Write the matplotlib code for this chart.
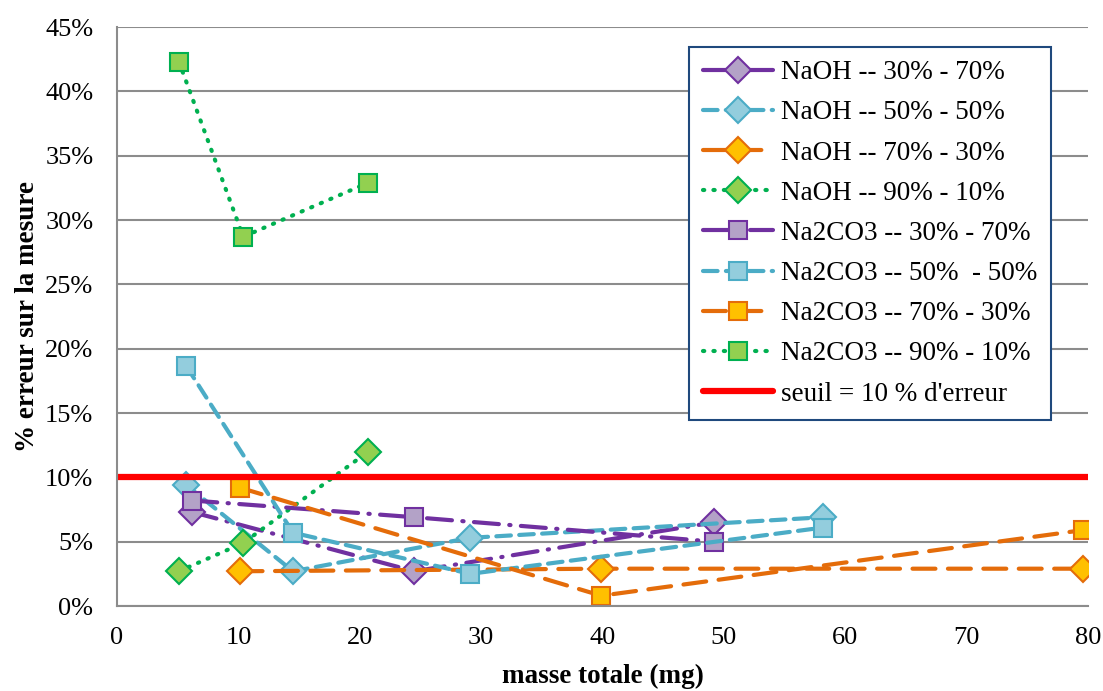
import matplotlib.pyplot as plt
from matplotlib.ticker import FuncFormatter

plt.rcParams['font.family'] = 'Liberation Serif'

# masse totale (mg) et % erreur pour chaque série
naoh_30_x = [6.2, 24.5, 49.2]
naoh_30_y = [7.3, 2.7, 6.5]
naoh_50_x = [5.7, 14.5, 29.1, 58.2]
naoh_50_y = [9.4, 2.7, 5.3, 6.9]
naoh_70_x = [10.1, 39.9, 79.6]
naoh_70_y = [2.7, 2.9, 2.9]
naoh_90_x = [5.1, 10.4, 20.7]
naoh_90_y = [2.7, 4.9, 12.0]

na2co3_30_x = [6.2, 24.5, 49.2]
na2co3_30_y = [8.2, 6.9, 5.0]
na2co3_50_x = [5.7, 14.5, 29.1, 58.2]
na2co3_50_y = [18.65, 5.7, 2.5, 6.1]
na2co3_70_x = [10.1, 39.9, 79.6]
na2co3_70_y = [9.2, 0.8, 5.9]
na2co3_90_x = [5.1, 10.4, 20.7]
na2co3_90_y = [42.3, 28.7, 32.9]

seuil_x = [0, 80]
seuil_y = [10, 10]

purple = ('#7030A0', '#B3A2C7')
cyan = ('#4BACC6', '#93CDDD')
orange = ('#E46C0A', '#FFC000')
green = ('#00B050', '#92D050')

dashdot = (0, (6, 2.5, 0.3, 2.5))
dashed = (0, (3.5, 2))
longdash = (0, (5.5, 3))
dotted = (0, (0.3, 2.2))

fig = plt.figure(figsize=(11.03, 6.91), dpi=100)
ax = fig.add_axes([0.1061, 0.1230, 0.8803, 0.8379])

def serie(x, y, col, ls, marker, label):
    ms = 13.5 if marker == 'D' else 12.5
    ax.plot(x, y, color=col[0], linestyle=ls, linewidth=3, dash_capstyle='round',
            marker=marker, markersize=ms, markerfacecolor=col[1],
            markeredgecolor=col[0], markeredgewidth=1.5, label=label)

serie(naoh_30_x, naoh_30_y, purple, dashdot, 'D', 'NaOH -- 30% - 70%')
serie(naoh_50_x, naoh_50_y, cyan, dashed, 'D', 'NaOH -- 50% - 50%')
serie(naoh_70_x, naoh_70_y, orange, longdash, 'D', 'NaOH -- 70% - 30%')
serie(naoh_90_x, naoh_90_y, green, dotted, 'D', 'NaOH -- 90% - 10%')
serie(na2co3_30_x, na2co3_30_y, purple, dashdot, 's', 'Na2CO3 -- 30% - 70%')
serie(na2co3_50_x, na2co3_50_y, cyan, dashed, 's', 'Na2CO3 -- 50%  - 50%')
serie(na2co3_70_x, na2co3_70_y, orange, longdash, 's', 'Na2CO3 -- 70% - 30%')
serie(na2co3_90_x, na2co3_90_y, green, dotted, 's', 'Na2CO3 -- 90% - 10%')
ax.plot(seuil_x, seuil_y, color='#FF0000', linewidth=4.5, solid_capstyle='round',
        label="seuil = 10 % d'erreur")

ax.set_xlim(0, 80)
ax.set_ylim(0, 45)
ax.set_xticks(range(0, 81, 10))
ax.set_yticks(range(0, 46, 5))
ax.yaxis.set_major_formatter(FuncFormatter(lambda v, p: f'{v:.0f}%'))
ax.tick_params(length=0, labelsize=19)
ax.tick_params(axis='y', pad=17)
ax.tick_params(axis='x', pad=15)
ax.grid(axis='y', color='#8C8C8C', linewidth=1.5)
ax.set_axisbelow(True)
for s in ['top', 'right']:
    ax.spines[s].set_visible(False)
for s in ['left', 'bottom']:
    ax.spines[s].set_color('#8C8C8C')
    ax.spines[s].set_linewidth(1.5)

ax.set_xlabel('masse totale (mg)', fontsize=19.5, fontweight='bold', labelpad=11)
ax.set_ylabel('% erreur sur la mesure', fontsize=19.5, fontweight='bold', labelpad=4)

leg = ax.legend(loc='upper right', bbox_to_anchor=(0.962, 0.966), borderaxespad=0,
                fontsize=19.5, frameon=True, fancybox=False, edgecolor='#1F497D',
                framealpha=1, handlelength=2.6, labelspacing=0.56, borderpad=0.5,
                handletextpad=0.3)
leg.get_frame().set_linewidth(1.5)

plt.savefig('out.png', dpi=100)
